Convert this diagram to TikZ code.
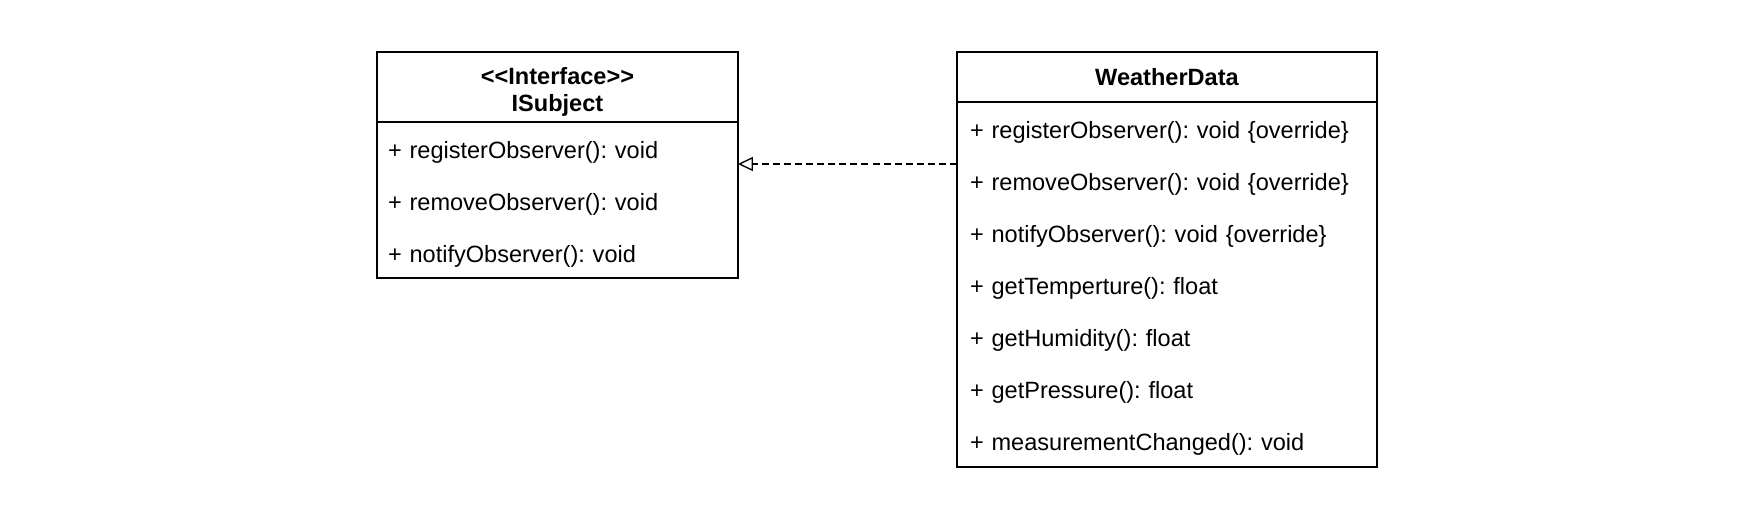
\documentclass[tikz,border=0pt]{standalone}
\usepackage{fontspec}
\setmainfont{Liberation Sans}
\usetikzlibrary{arrows.meta,positioning}

\begin{document}
\frenchspacing
\begin{tikzpicture}[
    x=0.02cm, y=-0.02cm,
    line width=0.75pt,
    classhead/.style={draw, anchor=north west, align=center, inner sep=0pt, outer sep=0pt,
      font=\fontsize{13.4}{15.3}\selectfont\bfseries},
    classbody/.style={draw, align=left, inner ysep=0pt, inner xsep=0.22cm, outer sep=0pt,
      font=\fontsize{13.4}{29.6}\selectfont},
    realize/.style={dash pattern=on 4pt off 2.3pt, -{Triangle[open,length=0.3cm,width=0.28cm]}}
  ]
    \useasboundingbox (0,0) rectangle (1754,524);
    % interface
    \node[classhead, minimum width=7.22cm, minimum height=1.4cm] (isubjectHead) at (377,52) {\rule{0pt}{15pt}{<}{<}Interface{>}{>}\\ISubject};
    \node[classbody, below=0pt of isubjectHead, text width=6.78cm, minimum height=3.12cm] (isubjectBody)
      {\rule{0pt}{14.5pt}+ registerObserver(): void\\+ removeObserver(): void\\+ notifyObserver(): void};
    % concrete class
    \node[classhead, minimum width=8.4cm, minimum height=1.0cm] (weatherHead) at (957,52) {WeatherData};
    \node[classbody, below=0pt of weatherHead, inner xsep=0.26cm, text width=7.88cm, minimum height=7.3cm] (weatherBody)
      {\rule{0pt}{14.5pt}+ registerObserver(): void \{override\}\\+ removeObserver(): void \{override\}\\+ notifyObserver(): void \{override\}\\
       + getTemperture(): float\\+ getHumidity(): float\\+ getPressure(): float\\+ measurementChanged(): void};
    \coordinate (implStart) at (weatherBody.west |- 0,164);
    \draw[realize] (implStart) -- (implStart -| isubjectBody.east);
  \end{tikzpicture}
\end{document}
